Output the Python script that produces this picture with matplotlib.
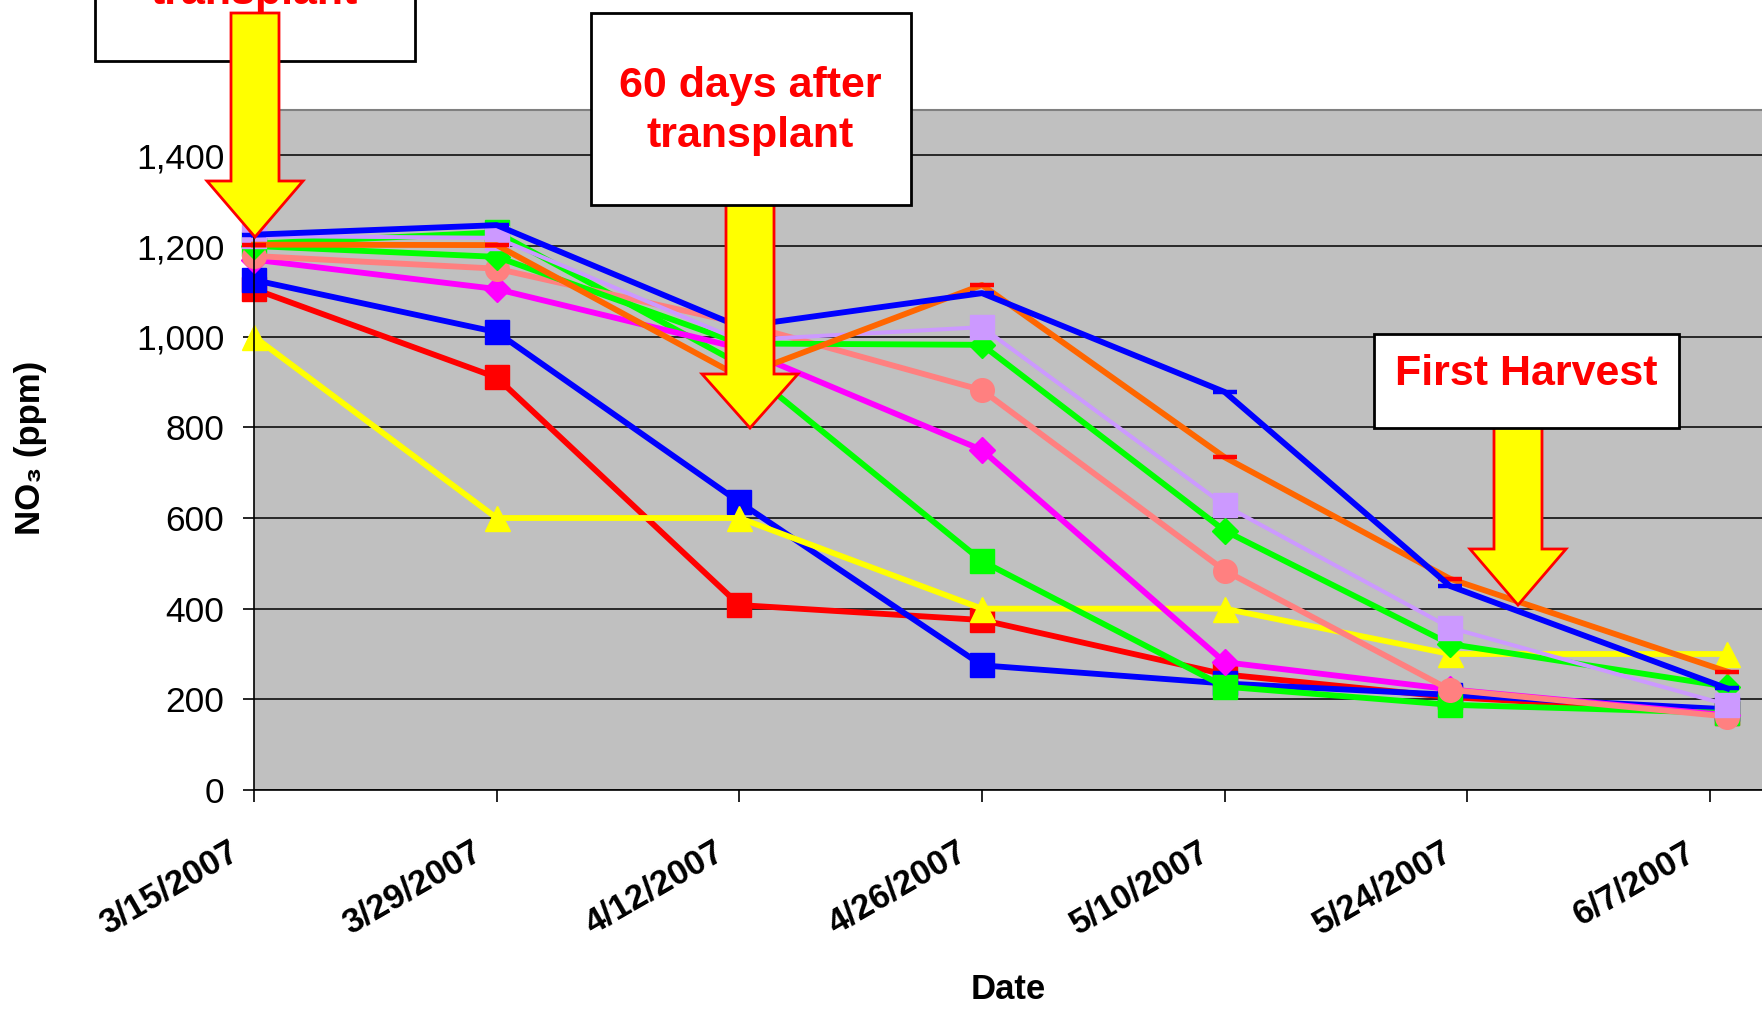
import datetime as dt
import matplotlib
matplotlib.use("Agg")
import matplotlib.pyplot as plt
import matplotlib.transforms as mtransforms
from matplotlib.patches import Polygon, Rectangle
from matplotlib.ticker import FuncFormatter

plt.rcParams['font.family'] = ['Liberation Sans', 'DejaVu Sans']

# sampling dates
dates = [dt.date(2007, 3, 15), dt.date(2007, 3, 29), dt.date(2007, 4, 12),
         dt.date(2007, 4, 26), dt.date(2007, 5, 10), dt.date(2007, 5, 23),
         dt.date(2007, 6, 8)]

# tick dates / labels
tick_dates = [dt.date(2007, 3, 15), dt.date(2007, 3, 29), dt.date(2007, 4, 12),
              dt.date(2007, 4, 26), dt.date(2007, 5, 10), dt.date(2007, 5, 24),
              dt.date(2007, 6, 7)]
tick_labels = ['3/15/2007', '3/29/2007', '4/12/2007', '4/26/2007',
               '5/10/2007', '5/24/2007', '6/7/2007']

# NO3 (ppm) per treatment
red_sq = [1105, 910, 408, 375, 255, 205, 170]
blue_sq = [1125, 1010, 635, 275, 235, 210, 178]
yellow_tri = [1000, 600, 600, 400, 400, 300, 300]
green_sq = [1205, 1230, 940, 505, 228, 188, 170]
magenta_dia = [1170, 1105, 975, 750, 282, 222, 165]
salmon_circ = [1178, 1150, 1030, 882, 484, 221, 162]
green_dia = [1200, 1176, 985, 982, 572, 322, 228]
lavender_sq = [1222, 1218, 992, 1021, 628, 358, 188]
orange_dash = [1203, 1202, 912, 1114, 734, 466, 261]
blue_dash = [1225, 1246, 1022, 1096, 878, 450, 224]

series = [
    (red_sq, '#FF0000', 's', '#FF0000', 4.2),
    (blue_sq, '#0000FF', 's', '#0000FF', 4.2),
    (yellow_tri, '#FFFF00', '^', '#FFFF00', 4.2),
    (green_sq, '#00FF00', 's', '#00FF00', 4.2),
    (magenta_dia, '#FF00FF', 'D', '#FF00FF', 4.2),
    (salmon_circ, '#FF8080', 'o', '#FF8080', 4.2),
    (green_dia, '#00FF00', 'D', '#00FF00', 4.2),
    (lavender_sq, '#CC99FF', 's', '#CC99FF', 2.9),
    (orange_dash, '#FF6600', '_', '#FF0000', 4.2),
    (blue_dash, '#0000FF', '_', '#0000FF', 4.2),
]
marker_sizes = {'s': 17, 'o': 17, '^': 18, 'D': 13, '_': 17}

W, H = 1762, 1009
fig = plt.figure(figsize=(W / 100, H / 100), dpi=100)
ax = fig.add_axes([254 / W, 1 - 790 / H, 1 - 254 / W, 680 / H])
ax.set_facecolor('#C0C0C0')

for vals, col, mk, mcol, lw in series:
    ax.plot(dates, vals, color=col, lw=lw, marker=mk, markersize=marker_sizes[mk],
            markerfacecolor=mcol, markeredgecolor=mcol,
            markeredgewidth=3.2 if mk == '_' else 1, clip_on=False)

ax.set_ylim(0, 1500)
ax.set_yticks(range(0, 1401, 200))
ax.yaxis.set_major_formatter(FuncFormatter(lambda v, p: f'{int(v):,}'))
ax.set_xlim(dt.date(2007, 3, 15), dt.date(2007, 6, 10))
ax.set_xticks(tick_dates)
ax.set_xticklabels(tick_labels, rotation=30, ha='right', va='top',
                   rotation_mode='anchor', fontweight='bold', fontsize=25)
ax.tick_params(axis='y', labelsize=25.5, length=8, width=1.2, direction='out', pad=13.5)
ax.tick_params(axis='x', length=8.5, width=1.2, direction='out', pad=24)
# push the slanted date labels a little to the left of their ticks
shift = mtransforms.ScaledTranslation(-26 / 100, 0, fig.dpi_scale_trans)
for lab in ax.get_xticklabels():
    lab.set_transform(lab.get_transform() + shift)
ax.grid(axis='y', color='black', lw=1.1)
ax.set_axisbelow(True)
for s in ('left', 'bottom'):
    ax.spines[s].set_color('black')
    ax.spines[s].set_linewidth(1.2)
ax.spines['top'].set_color('#808080')
ax.spines['top'].set_linewidth(1.5)
ax.spines['right'].set_visible(False)

ax.set_ylabel('NO\u2083 (ppm)', fontsize=25, fontweight='bold')
ax.set_xlabel('Date', fontsize=25, fontweight='bold')
ax.xaxis.set_label_coords((1008 - 254) / (W - 254), -(973 - 790) / 680)
ax.yaxis.set_label_coords(-(254 - 47) / (W - 254), (790 - 448) / 680)

# overlay in pixel coordinates for the callouts
ov = fig.add_axes([0, 0, 1, 1], facecolor='none')
ov.set_xlim(0, W)
ov.set_ylim(H, 0)
ov.axis('off')


def block_arrow(xc, y_top, y_base, y_tip, shaft_hw=24, head_hw=48, z=5):
    pts = [(xc - shaft_hw, y_top), (xc + shaft_hw, y_top), (xc + shaft_hw, y_base),
           (xc + head_hw, y_base), (xc, y_tip), (xc - head_hw, y_base),
           (xc - shaft_hw, y_base)]
    ov.add_patch(Polygon(pts, closed=True, facecolor='#FFFF00', edgecolor='#FF0000',
                         lw=2, zorder=z))


def text_box(x0, y0, x1, y1, txt, tx, ty, z=6):
    ov.add_patch(Rectangle((x0, y0), x1 - x0, y1 - y0, facecolor='white',
                           edgecolor='black', lw=2, zorder=z))
    ov.text(tx, ty, txt, color='#FF0000', fontsize=31, fontweight='bold',
            ha='center', va='center', linespacing=1.32, zorder=z + 1)


# box cut off at the top
ov.add_patch(Rectangle((95, -60), 320, 121, facecolor='white', edgecolor='black',
                       lw=2, zorder=6))
ov.text(254, 4, 'transplant', color='#FF0000', fontsize=31, fontweight='bold',
        ha='center', va='baseline', zorder=7)
block_arrow(255, 13, 181, 237, z=8)

block_arrow(750, 190, 374, 428, z=5)
text_box(591, 13, 911, 205, '60 days after\ntransplant', 750, 111)

block_arrow(1518, 420, 549, 605, z=5)
text_box(1374, 334, 1679, 428, 'First Harvest', 1526, 374)

fig.savefig('out.png', dpi=100)
